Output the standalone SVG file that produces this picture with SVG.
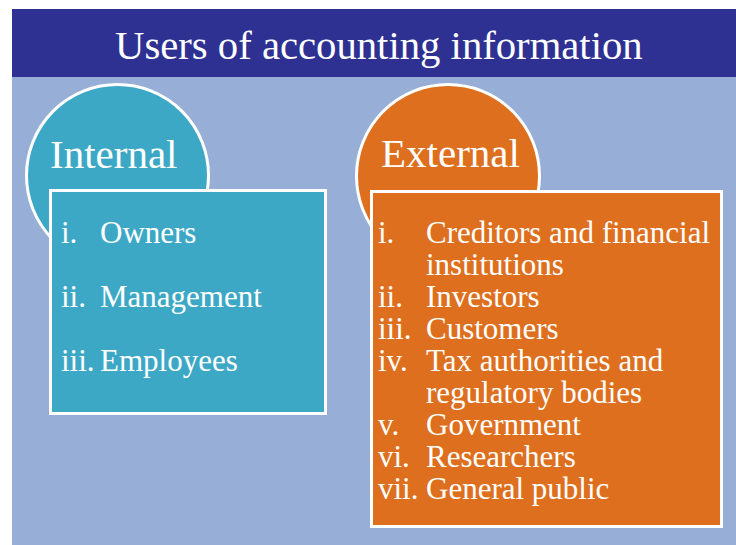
<svg xmlns="http://www.w3.org/2000/svg" width="736" height="545" viewBox="0 0 736 545">
  <style>
    text { font-family: "Liberation Serif", "Times New Roman", serif; fill: #ffffff; }
    .title { font-size: 40.7px; }
    .head { font-size: 41px; }
    .item { font-size: 31px; }
    .ring { stroke: #ffffff; stroke-width: 3; }
    .box { stroke: #ffffff; stroke-width: 3; }
    .teal { fill: #3DA8C5; }
    .orange { fill: #DD6F1E; }
  </style>
  <rect x="0" y="0" width="736" height="545" fill="#ffffff"/>
  <rect id="background" x="12" y="77" width="724" height="468" fill="#97AFD7"/>
  <g id="title">
    <rect x="12" y="9" width="724" height="68" fill="#2E3192"/>
    <text class="title" x="115" y="59">Users of accounting information</text>
  </g>
  <g id="internal">
    <circle class="ring teal" cx="117.5" cy="175.5" r="91"/>
    <text class="head" x="50" y="168">Internal</text>
    <rect class="box teal" x="50.5" y="190.5" width="275" height="223"/>
    <text class="item" x="61" y="243">i.</text>
    <text class="item" x="100" y="243">Owners</text>
    <text class="item" x="61" y="307">ii.</text>
    <text class="item" x="100" y="307">Management</text>
    <text class="item" x="61" y="371">iii.</text>
    <text class="item" x="100" y="371">Employees</text>
  </g>
  <g id="external">
    <circle class="ring orange" cx="448" cy="176" r="91.5"/>
    <text class="head" x="381" y="167">External</text>
    <rect class="box orange" x="371.5" y="191.5" width="350" height="335"/>
    <text class="item" x="378" y="243">i.</text>
    <text class="item" x="426" y="243">Creditors and financial</text>
    <text class="item" x="426" y="275">institutions</text>
    <text class="item" x="378" y="307">ii.</text>
    <text class="item" x="426" y="307">Investors</text>
    <text class="item" x="378" y="339">iii.</text>
    <text class="item" x="426" y="339">Customers</text>
    <text class="item" x="378" y="371">iv.</text>
    <text class="item" x="426" y="371">Tax authorities and</text>
    <text class="item" x="426" y="403">regulatory bodies</text>
    <text class="item" x="378" y="435">v.</text>
    <text class="item" x="426" y="435">Government</text>
    <text class="item" x="378" y="467">vi.</text>
    <text class="item" x="426" y="467">Researchers</text>
    <text class="item" x="378" y="499">vii.</text>
    <text class="item" x="426" y="499">General public</text>
  </g>
  <g id="connectors"/>
</svg>
